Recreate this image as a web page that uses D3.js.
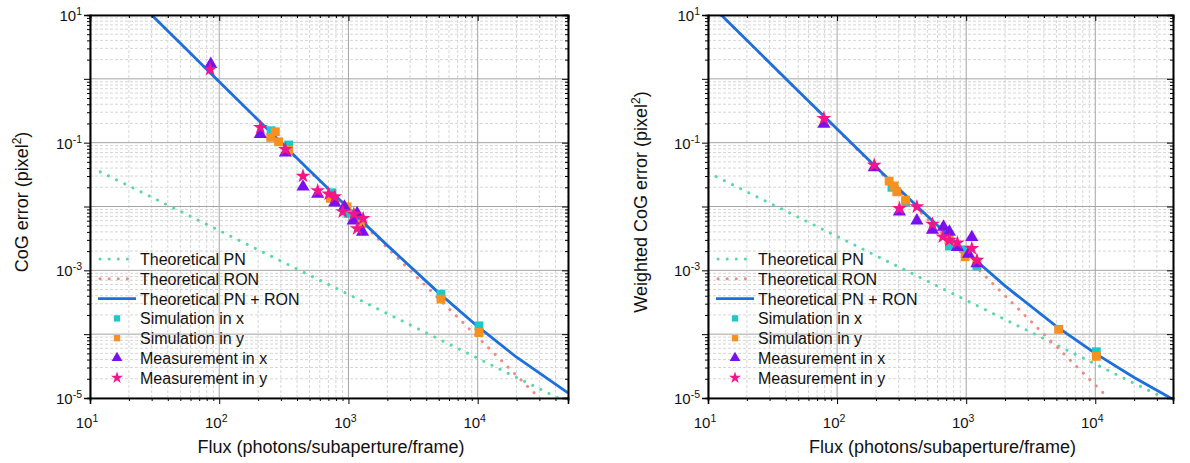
<!DOCTYPE html>
<html>
<head>
<meta charset="utf-8">
<script src="https://cdn.jsdelivr.net/npm/d3@7"></script>
<style>
  body { margin: 0; background: #fff; }
  svg { font-family: "Liberation Sans", Arial, sans-serif; }
</style>
</head>
<body>
<div id="chart"></div>
<script>
// ---- data: [flux, error] ----

// left panel (CoG)
const cogPN = [[12, 0.035], [20, 0.021], [30, 0.014], [50, 0.0084], [100, 0.0042], [200, 0.0021], [500, 8.4e-4],
  [1000, 4.2e-4], [2000, 2.1e-4], [5000, 8.4e-5], [10000, 4.2e-5], [20000, 2.1e-5], [50000, 8.4e-6]];
const cogRON = [[12, 62.5], [20, 22.5], [30, 10], [50, 3.6], [100, 0.9], [200, 0.225], [500, 0.036],
  [1000, 0.009], [2000, 2.25e-3], [5000, 3.6e-4], [10000, 9e-5], [20000, 2.25e-5], [50000, 3.6e-6]];
const cogTotal = [[12, 62.5], [20, 22.5], [30, 10.0], [50, 3.61], [100, 0.904], [200, 0.227], [500, 0.0368],
  [1000, 0.00942], [2000, 2.46e-3], [5000, 4.44e-4], [10000, 1.32e-4], [20000, 4.35e-5], [50000, 1.2e-5]];
const cogSimX = [[252, 0.154], [344, 0.092], [746, 0.0164], [989, 0.0078], [5200, 4.24e-4], [10240, 1.35e-4]];
const cogSimY = [[272, 0.148], [250, 0.121], [288, 0.103], [344, 0.0766], [725, 0.0134], [975, 0.0099],
  [1239, 0.0053], [5200, 3.54e-4], [10240, 1.06e-4]];
const cogMeasX = [[86, 1.7], [208, 0.136], [325, 0.0695], [445, 0.0204], [578, 0.0157], [783, 0.0115],
  [931, 0.0099], [1167, 0.0078], [1087, 0.006], [1285, 0.004]];
const cogMeasY = [[85, 1.41], [208, 0.174], [325, 0.0785], [445, 0.03], [578, 0.0177], [703, 0.0157],
  [783, 0.0142], [903, 0.0083], [1100, 0.0076], [1300, 0.0065], [1167, 0.0045]];

// right panel (weighted CoG)
const wcogPN = [[10, 0.034], [20, 0.017], [50, 0.0068], [100, 0.0034], [200, 0.0017], [500, 6.8e-4],
  [1000, 3.4e-4], [2000, 1.7e-4], [5000, 6.8e-5], [10000, 3.4e-5], [20000, 1.7e-5], [40000, 8.5e-6]];
const wcogRON = [[10, 16], [20, 4], [50, 0.64], [100, 0.16], [200, 0.04], [500, 6.4e-3],
  [1000, 1.6e-3], [2000, 4e-4], [5000, 6.4e-5], [10000, 1.6e-5], [20000, 4e-6], [40000, 1e-6]];
const wcogTotal = [[10, 16.0], [20, 4.02], [50, 0.647], [100, 0.163], [200, 0.0417], [500, 7.08e-3],
  [1000, 1.94e-3], [2000, 5.7e-4], [5000, 1.32e-4], [10000, 5.0e-5], [20000, 2.1e-5], [40000, 9.5e-6]];
const wcogSimX = [[266, 0.02], [340, 0.0117], [741, 0.0024], [982, 0.0021], [1211, 0.00117], [10190, 5.3e-5]];
const wcogSimY = [[253, 0.025], [277, 0.021], [290, 0.017], [340, 0.0126], [735, 0.003], [982, 0.00163],
  [1211, 0.00135], [5200, 1.19e-4], [10190, 4.5e-5]];
const wcogMeasX = [[79, 0.196], [194, 0.041], [304, 0.0083], [415, 0.006], [548, 0.0043], [667, 0.0048],
  [741, 0.004], [855, 0.0023], [1106, 0.0033], [1042, 0.0018], [1211, 0.00128]];
const wcogMeasY = [[79, 0.24], [194, 0.0446], [304, 0.0093], [415, 0.0099], [548, 0.0053], [659, 0.00335],
  [741, 0.00297], [855, 0.0027], [1106, 0.0022], [1211, 0.00144]];

const xTickExp = [1, 2, 3, 4];
const yTickExp = [1, -1, -3, -5];
const legendLabels = ["Theoretical PN", "Theoretical RON", "Theoretical PN + RON",
  "Simulation in x", "Simulation in y", "Measurement in x", "Measurement in y"];

const col = {
  pn: "#5ad8a6", ron: "#f08a84", tot: "#1c6fdd",
  simx: "#1ec8c8", simy: "#f7901e", measx: "#7a10f0", measy: "#f5158a"
};

const W = 1190, H = 463;
const svg = d3.select("#chart").append("svg").attr("width", W).attr("height", H);

function panel(opt) {
  const x = d3.scaleLog().domain(opt.xDomain).range([opt.left, opt.right]);
  const y = d3.scaleLog().domain([1e-5, 10]).range([398, 15]);
  const g = svg.append("g");
  const id = "clip" + opt.left;
  svg.append("clipPath").attr("id", id).append("rect")
    .attr("x", opt.left).attr("y", 15).attr("width", opt.right - opt.left).attr("height", 383);

  // grid
  const xMinor = [], yMinor = [];
  for (let e = 1; e <= 4; e++) for (let m = 2; m <= 9; m++) if (m * 10 ** e <= opt.xDomain[1]) xMinor.push(m * 10 ** e);
  for (let e = -5; e <= 0; e++) for (let m = 2; m <= 9; m++) yMinor.push(m * 10 ** e);
  const xMajor = [10, 100, 1000, 10000];
  const yMajor = d3.range(-5, 2).map(e => 10 ** e);

  g.append("g").selectAll("line").data(xMinor).join("line")
    .attr("x1", d => x(d)).attr("x2", d => x(d)).attr("y1", 15).attr("y2", 398)
    .attr("stroke", "#d6d6d6").attr("stroke-dasharray", "3,2");
  g.append("g").selectAll("line").data(yMinor).join("line")
    .attr("y1", d => y(d)).attr("y2", d => y(d)).attr("x1", opt.left).attr("x2", opt.right)
    .attr("stroke", "#d6d6d6").attr("stroke-dasharray", "3,2");
  g.append("g").selectAll("line").data(xMajor).join("line")
    .attr("x1", d => x(d)).attr("x2", d => x(d)).attr("y1", 15).attr("y2", 398)
    .attr("stroke", "#a4a4a4");
  g.append("g").selectAll("line").data(yMajor).join("line")
    .attr("y1", d => y(d)).attr("y2", d => y(d)).attr("x1", opt.left).attr("x2", opt.right)
    .attr("stroke", "#a4a4a4");

  // theory curves
  const line = d3.line().x(d => x(d[0])).y(d => y(d[1]));
  const lines = g.append("g").attr("clip-path", `url(#${id})`);
  lines.append("path").attr("d", line(opt.pn)).attr("fill", "none").attr("stroke", col.pn)
    .attr("stroke-width", 3).attr("stroke-linecap", "round").attr("stroke-dasharray", "0.1,9");
  lines.append("path").attr("d", line(opt.ron)).attr("fill", "none").attr("stroke", col.ron)
    .attr("stroke-width", 3).attr("stroke-linecap", "round").attr("stroke-dasharray", "0.1,9");
  lines.append("path").attr("d", line(opt.tot)).attr("fill", "none").attr("stroke", col.tot)
    .attr("stroke-width", 2.8);

  // markers
  const series = [
    [opt.simx, d3.symbolSquare, 78, col.simx],
    [opt.simy, d3.symbolSquare, 78, col.simy],
    [opt.measx, d3.symbolTriangle, 75, col.measx],
    [opt.measy, d3.symbolStar, 68, col.measy]
  ];
  for (const [data, sym, size, c] of series) {
    g.append("g").selectAll("path").data(data).join("path")
      .attr("transform", d => `translate(${x(d[0])},${y(d[1])})`)
      .attr("d", d3.symbol(sym, size)).attr("fill", c);
  }

  // axes
  const ax = g.append("g").attr("stroke", "#000");
  const bottom = ax.append("g").attr("transform", "translate(0,398)");
  bottom.call(d3.axisBottom(x).tickValues(xMinor).tickSize(3).tickFormat(""));
  bottom.call(g2 => g2.append("g").call(d3.axisBottom(x).tickValues(xMajor).tickSize(6).tickFormat("")));
  const top = ax.append("g").attr("transform", "translate(0,15)");
  top.call(d3.axisTop(x).tickValues(xMinor).tickSize(-3).tickFormat(""));
  top.call(g2 => g2.append("g").call(d3.axisTop(x).tickValues(xMajor).tickSize(-6).tickFormat("")));
  const leftAx = ax.append("g").attr("transform", `translate(${opt.left},0)`);
  leftAx.call(d3.axisLeft(y).tickValues(yMinor).tickSize(3).tickFormat(""));
  leftAx.call(g2 => g2.append("g").call(d3.axisLeft(y).tickValues(yMajor).tickSize(6).tickFormat("")));
  const rightAx = ax.append("g").attr("transform", `translate(${opt.right},0)`);
  rightAx.call(d3.axisRight(y).tickValues(yMinor).tickSize(-3).tickFormat(""));
  rightAx.call(g2 => g2.append("g").call(d3.axisRight(y).tickValues(yMajor).tickSize(-6).tickFormat("")));
  ax.selectAll(".domain").attr("stroke-width", 1.6);
  ax.selectAll(".tick line").attr("stroke", "#000");

  // tick labels
  const xl = g.append("g").attr("font-size", 15).attr("fill", "#111");
  xTickExp.forEach(e => {
    const t = xl.append("text").attr("x", x(10 ** e) - 3).attr("y", 428).attr("text-anchor", "middle");
    t.append("tspan").text("10");
    t.append("tspan").attr("dy", -6).attr("font-size", 10.5).text(e);
  });
  yTickExp.forEach(e => {
    const t = xl.append("text").attr("x", opt.left - 8).attr("y", y(10 ** e) + 6).attr("text-anchor", "end");
    t.append("tspan").text("10");
    t.append("tspan").attr("dy", -6).attr("font-size", 10.5).text(e);
  });

  // axis titles
  g.append("text").attr("x", (opt.left + opt.right) / 2 + 2).attr("y", 453)
    .attr("text-anchor", "middle").attr("font-size", 18).attr("fill", "#111")
    .text("Flux (photons/subaperture/frame)");
  const yt = g.append("text").attr("transform", `translate(${opt.ytX},${opt.ytY}) rotate(-90)`)
    .attr("text-anchor", "middle").attr("font-size", 18).attr("fill", "#111");
  yt.append("tspan").text(opt.ylabel + " (pixel");
  yt.append("tspan").attr("dy", -7).attr("font-size", 12).text("2");
  yt.append("tspan").attr("dy", 7).text(")");

  // legend
  const lg = g.append("g").attr("transform", `translate(${opt.left},0)`).attr("font-size", 16).attr("fill", "#111");
  legendLabels.forEach((lab, i) => {
    const yy = 259 + i * 19.8;
    lg.append("text").attr("x", 50).attr("y", yy + 6).text(lab);
    if (i < 2) {
      lg.append("line").attr("x1", 10).attr("x2", 40).attr("y1", yy).attr("y2", yy)
        .attr("stroke", i === 0 ? col.pn : col.ron).attr("stroke-width", 3)
        .attr("stroke-linecap", "round").attr("stroke-dasharray", "0.1,9");
    } else if (i === 2) {
      lg.append("line").attr("x1", 8).attr("x2", 46).attr("y1", yy).attr("y2", yy)
        .attr("stroke", col.tot).attr("stroke-width", 2.8);
    } else {
      const s = [[d3.symbolSquare, 40, col.simx], [d3.symbolSquare, 40, col.simy],
        [d3.symbolTriangle, 50, col.measx], [d3.symbolStar, 45, col.measy]][i - 3];
      lg.append("path").attr("transform", `translate(27,${yy})`).attr("d", d3.symbol(s[0], s[1])).attr("fill", s[2]);
    }
  });
}

panel({
  left: 90, right: 568, xDomain: [10, 5e4], ytX: 28, ytY: 202, ylabel: "CoG error",
  pn: cogPN, ron: cogRON, tot: cogTotal, simx: cogSimX, simy: cogSimY, measx: cogMeasX, measy: cogMeasY
});
panel({
  left: 708, right: 1173, xDomain: [10, 4e4], ytX: 647, ytY: 202, ylabel: "Weighted CoG error",
  pn: wcogPN, ron: wcogRON, tot: wcogTotal, simx: wcogSimX, simy: wcogSimY, measx: wcogMeasX, measy: wcogMeasY
});
</script>
</body>
</html>
